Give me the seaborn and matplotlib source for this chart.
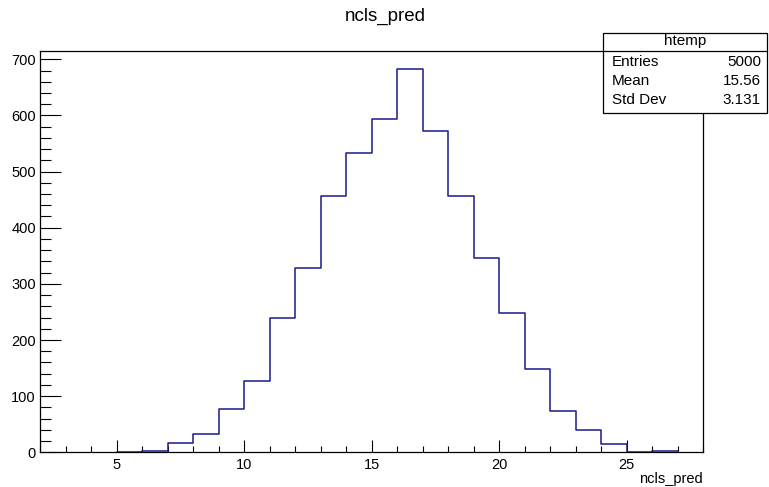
import numpy as np
import pandas as pd
import matplotlib
matplotlib.use("Agg")
import matplotlib.pyplot as plt
from matplotlib.ticker import MultipleLocator
from matplotlib.patches import Rectangle
from matplotlib.lines import Line2D
import seaborn as sns

# ---- data ----
bin_lefts = [5, 6, 7, 8, 9, 10, 11, 12, 13, 14, 15, 16, 17, 18, 19, 20, 21, 22, 23, 24, 25, 26]
counts = [1, 3, 16, 33, 77, 127, 240, 328, 457, 533, 593, 682, 572, 456, 346, 248, 149, 74, 39, 15, 1, 3]
bin_edges = list(range(5, 28))
title = "ncls_pred"
xlabel = "ncls_pred"
stats_name = "htemp"
stats_labels = ["Entries", "Mean", "Std Dev"]
stats_values = ["5000", "15.56", "3.131"]

sns.set_style("ticks")
plt.rcParams["font.family"] = ["Liberation Sans", "DejaVu Sans"]
for k in ["text.color", "axes.labelcolor", "xtick.color", "ytick.color", "axes.edgecolor"]:
    plt.rcParams[k] = "black"

W, H = 769, 487
fig = plt.figure(figsize=(W / 100, H / 100), dpi=100)
ax = fig.add_axes([40 / W, 1 - 452.3 / H, (703.3 - 40) / W, (452.3 - 50.7) / H])

df = pd.DataFrame({"x": bin_lefts, "w": counts})
sns.histplot(data=df, x="x", weights="w", bins=bin_edges, element="step",
             fill=False, color="#1a1a8c", linewidth=1.1, ax=ax)

ax.set_xlim(2, 28)
ax.set_ylim(0, 715.3)
ax.set_ylabel("")
ax.set_xlabel("")

ax.xaxis.set_major_locator(MultipleLocator(5))
ax.xaxis.set_minor_locator(MultipleLocator(1))
ax.yaxis.set_major_locator(MultipleLocator(100))
ax.yaxis.set_minor_locator(MultipleLocator(20))

ax.tick_params(axis="x", which="major", direction="in", length=8.4, width=0.8,
               labelsize=10.5, pad=4, top=False, colors="black")
ax.tick_params(axis="x", which="minor", direction="in", length=4.1, width=0.8, top=False,
               colors="black")
ax.tick_params(axis="y", which="major", direction="in", length=15, width=0.8,
               labelsize=10.5, pad=3, right=False, colors="black")
ax.tick_params(axis="y", which="minor", direction="in", length=7.7, width=0.8, right=False,
               colors="black")

for s in ax.spines.values():
    s.set_visible(True)
    s.set_linewidth(0.9)
    s.set_color("black")

fig.text(385 / W, 1 - 16 / H, title, ha="center", va="center", fontsize=13.5, color="black")
fig.text(703 / W, 1 - 479 / H, xlabel, ha="right", va="center", fontsize=10.5, color="black")

# stats box
bx0, bx1, by0, by1 = 603, 767, 33, 113
fig.patches.append(Rectangle((bx0 / W, 1 - by1 / H), (bx1 - bx0) / W, (by1 - by0) / H,
                             transform=fig.transFigure, facecolor="white",
                             edgecolor="black", linewidth=0.9, zorder=5))
fig.lines.append(Line2D([bx0 / W, bx1 / W], [1 - 50.7 / H, 1 - 50.7 / H],
                        transform=fig.transFigure, color="black", linewidth=0.9, zorder=6))
fig.text((bx0 + bx1) / 2 / W, 1 - 41.5 / H, stats_name, ha="center", va="center",
         fontsize=11, zorder=7, color="black")
row_y = [62, 81, 100]
for yy, lab, val in zip(row_y, stats_labels, stats_values):
    fig.text(612 / W, 1 - yy / H, lab, ha="left", va="center", fontsize=11, zorder=7, color="black")
    fig.text(761 / W, 1 - yy / H, val, ha="right", va="center", fontsize=11, zorder=7, color="black")

fig.savefig("out.png", dpi=100)
